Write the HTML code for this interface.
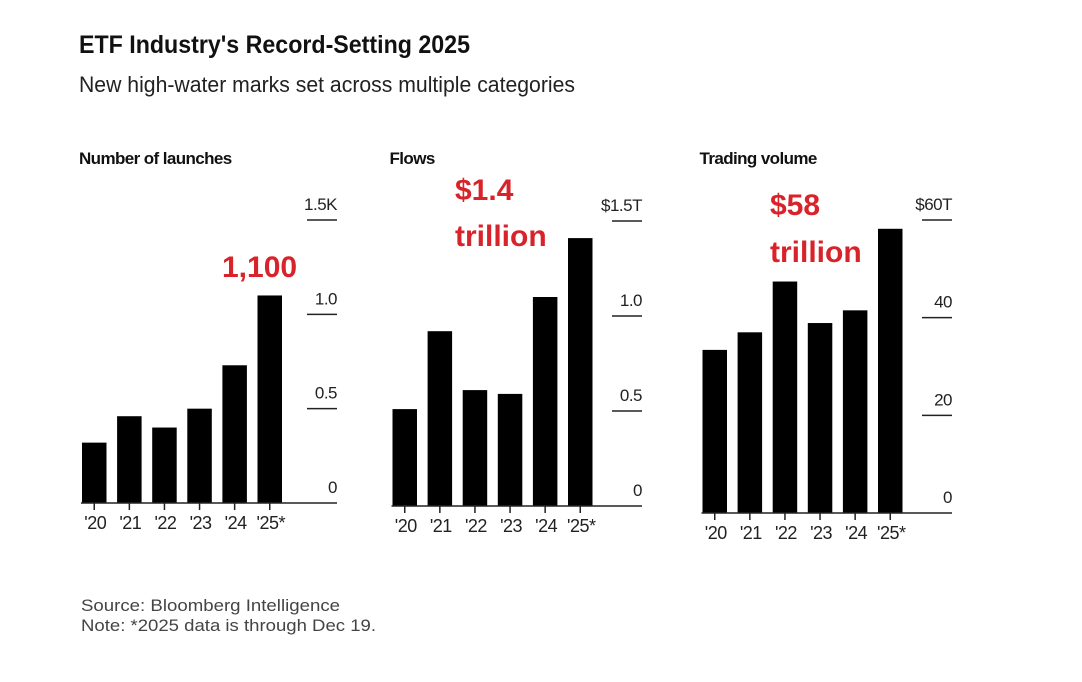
<!DOCTYPE html>
<html><head><meta charset="utf-8"><style>
html,body{margin:0;padding:0;background:#fff;}
svg{display:block;}
text{font-family:"Liberation Sans",Arial,sans-serif;}
</style></head><body>
<svg id="chart" width="1082" height="682" viewBox="0 0 1082 682">
<rect x="0" y="0" width="1082" height="682" fill="#fff"/>
<text x="79" y="53" font-size="25" font-weight="bold" fill="#111" textLength="391" lengthAdjust="spacingAndGlyphs">ETF Industry's Record-Setting 2025</text>
<text x="79" y="92" font-size="22" fill="#222" textLength="496" lengthAdjust="spacingAndGlyphs">New high-water marks set across multiple categories</text>
<text x="81" y="611" font-size="17" fill="#444" textLength="259" lengthAdjust="spacingAndGlyphs">Source: Bloomberg Intelligence</text>
<text x="81" y="631" font-size="17" fill="#444" textLength="295" lengthAdjust="spacingAndGlyphs">Note: *2025 data is through Dec 19.</text>
<g id="panels"></g>
</svg>
<script>
const categories = ["'20","'21","'22","'23","'24","'25*"];
const launchesValues = [0.32, 0.46, 0.40, 0.50, 0.73, 1.10];
const flowsValues = [0.51, 0.92, 0.61, 0.59, 1.10, 1.41];
const volumeValues = [33.4, 37.0, 47.4, 38.9, 41.5, 58.2];
const launchesTicks = [0, 0.5, 1.0, 1.5];
const launchesTickLabels = ["0","0.5","1.0","1.5K"];
const flowsTicks = [0, 0.5, 1.0, 1.5];
const flowsTickLabels = ["0","0.5","1.0","$1.5T"];
const volumeTicks = [0, 20, 40, 60];
const volumeTickLabels = ["0","20","40","$60T"];

const NS = "http://www.w3.org/2000/svg";
const root = document.getElementById('panels');
function mk(tag, attrs, parent){
  const e = document.createElementNS(NS, tag);
  for (const k in attrs) e.setAttribute(k, attrs[k]);
  (parent||root).appendChild(e);
  return e;
}
const panels = [
  {name:'launches', title:'Number of launches', x0:82, base:503, top:220, max:1.5, vals:launchesValues, ticks:launchesTicks, labels:launchesTickLabels, axisEnd:337, notes:[{t:'1,100',x:222,y:277}]},
  {name:'flows', title:'Flows', x0:392.5, base:506, top:221, max:1.5, vals:flowsValues, ticks:flowsTicks, labels:flowsTickLabels, axisEnd:642, notes:[{t:'$1.4',x:455,y:200},{t:'trillion',x:455,y:246}]},
  {name:'volume', title:'Trading volume', x0:702.5, base:513, top:220, max:60, vals:volumeValues, ticks:volumeTicks, labels:volumeTickLabels, axisEnd:952, notes:[{t:'$58',x:770,y:215},{t:'trillion',x:770,y:262}]}
];
panels.forEach(p=>{
  const g = mk('g',{});
  
  
  const t = mk('text',{x:p.x0-3,y:164,'font-size':17,'font-weight':'bold',fill:'#111','letter-spacing':'-0.6'},g);
  t.textContent = p.title;
  
  
  const y = v => p.base - (v/p.max)*(p.base-p.top);
  const pitch = 35.1, bw = 24.5;
  const xc = i => p.x0 + i*pitch + bw/2;
  p.ticks.forEach((tv,i)=>{
    const yy = y(tv);
    if (tv !== 0) {
      const l = mk('line',{x1:p.axisEnd-30,x2:p.axisEnd,y1:yy,y2:yy,stroke:'#222','stroke-width':1.5},g);
      
      
    }
    const lt = mk('text',{x:p.axisEnd,y:yy-10,'font-size':17,fill:'#222','text-anchor':'end','letter-spacing':'-0.5'},g);
    lt.textContent = p.labels[i];
    
    
  });
  p.vals.forEach((v,i)=>{
    const r = mk('rect',{x:xc(i)-bw/2,y:y(v),width:bw,height:p.base-y(v),fill:'#000'},g);
    
    
    const tk = mk('line',{x1:xc(i),x2:xc(i),y1:p.base,y2:p.base+7,stroke:'#222','stroke-width':1.5},g);
    
    
    const xl = mk('text',{x:xc(i)+1,y:p.base+26,'font-size':18,fill:'#222','text-anchor':'middle','letter-spacing':'-0.5'},g);
    xl.textContent = categories[i];
    
    
  });
  const ax = mk('line',{x1:p.x0-1,x2:p.axisEnd,y1:p.base,y2:p.base,stroke:'#222','stroke-width':1.5},g);
  
  
  p.notes.forEach(n=>{
    const a = mk('text',{x:n.x,y:n.y,'font-size':30,'font-weight':'bold',fill:'#d8232a'},g);
    a.textContent = n.t;
    
    
  });
});
</script>
</body></html>
